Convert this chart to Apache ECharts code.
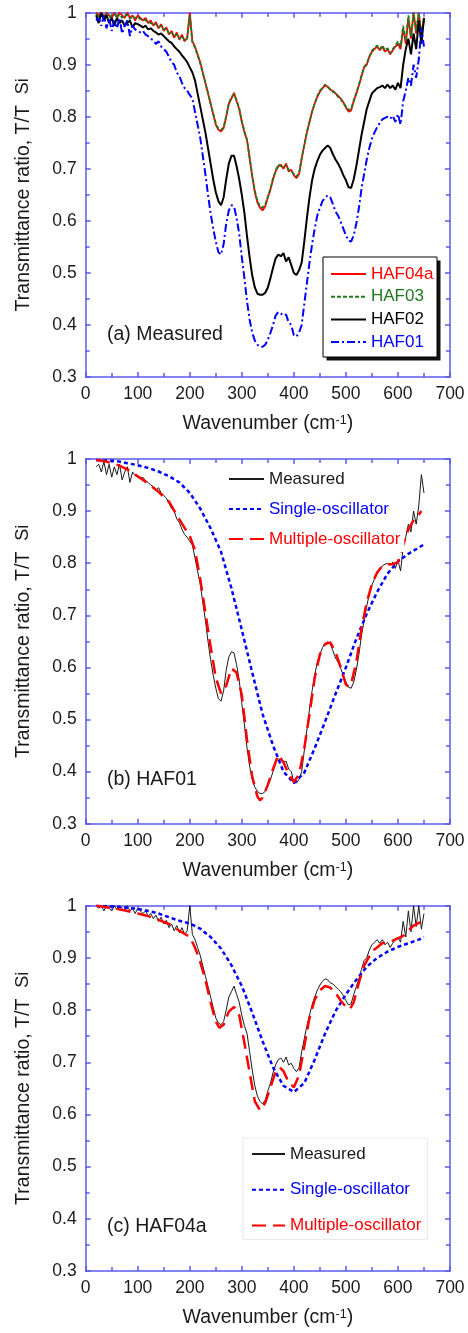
<!DOCTYPE html>
<html><head><meta charset="utf-8">
<script src="https://cdn.jsdelivr.net/npm/echarts@6/dist/echarts.min.js"></script>
<style>html,body{margin:0;padding:0;background:#fff}#c{width:468px;height:1333px}</style>
</head><body><div id="c"></div>
<script>
// ---------- DATA ----------
// measured wavenumber grid (cm^-1)
const wnMeas = [20,25,30,35,40,45,50,55,60,65,70,75,80,85,90,95,100,105,110,115,120,125,130,135,140,145,150,155,160,165,170,175,180,185,190,195,200,205,210,215,220,225,230,235,240,245,250,255,260,265,270,275,280,285,290,295,300,305,310,315,320,325,330,335,340,345,350,355,360,365,370,375,380,385,390,395,400,405,410,415,420,425,430,435,440,445,450,455,460,465,470,475,480,485,490,495,500,505,510,515,520,525,530,535,540,545,550,555,560,565,570,575,580,585,590,595,600,605,610,615,620,625,630,635,640,645,650];
const haf04a = [1.0,0.995,1.0,0.99,1.0,0.995,0.99,1.0,0.992,1.0,0.995,0.99,1.0,0.99,0.995,0.985,0.995,0.99,0.985,0.99,0.98,0.985,0.975,0.982,0.97,0.978,0.965,0.972,0.958,0.965,0.952,0.962,0.948,0.958,0.945,0.952,1.0,0.945,0.935,0.92,0.905,0.885,0.865,0.845,0.825,0.805,0.785,0.775,0.772,0.778,0.8,0.825,0.835,0.846,0.83,0.815,0.79,0.77,0.755,0.72,0.685,0.655,0.635,0.625,0.62,0.628,0.645,0.66,0.68,0.695,0.705,0.708,0.7,0.71,0.695,0.698,0.688,0.682,0.69,0.72,0.745,0.77,0.79,0.81,0.825,0.838,0.848,0.855,0.86,0.858,0.852,0.85,0.845,0.84,0.835,0.828,0.818,0.81,0.812,0.83,0.845,0.86,0.878,0.895,0.9,0.915,0.925,0.93,0.935,0.928,0.935,0.925,0.93,0.92,0.928,0.935,0.94,0.93,0.97,0.94,0.99,0.95,1.0,0.96,1.0,0.955,0.985];
const haf03 = [0.998,0.99,1.0,0.993,0.998,0.99,0.995,0.998,0.99,0.997,0.99,0.995,0.996,0.988,0.993,0.99,0.992,0.987,0.988,0.985,0.983,0.98,0.978,0.978,0.972,0.975,0.968,0.97,0.96,0.962,0.955,0.958,0.95,0.955,0.947,0.95,0.995,0.943,0.933,0.918,0.903,0.884,0.865,0.846,0.826,0.806,0.787,0.777,0.775,0.78,0.802,0.826,0.838,0.843,0.832,0.816,0.792,0.772,0.756,0.722,0.688,0.658,0.638,0.628,0.625,0.632,0.647,0.662,0.682,0.697,0.708,0.705,0.703,0.707,0.698,0.695,0.69,0.685,0.692,0.72,0.746,0.77,0.79,0.81,0.826,0.84,0.85,0.856,0.862,0.857,0.853,0.848,0.846,0.838,0.834,0.826,0.82,0.813,0.815,0.832,0.846,0.862,0.88,0.896,0.902,0.916,0.927,0.932,0.937,0.93,0.937,0.928,0.932,0.922,0.93,0.937,0.945,0.935,0.975,0.945,0.995,0.955,1.0,0.965,1.0,0.96,0.99];
const haf02 = [0.995,0.98,1.0,0.985,0.995,0.98,0.99,0.975,0.99,0.98,0.985,0.975,0.98,0.985,0.972,0.98,0.978,0.975,0.972,0.975,0.968,0.97,0.965,0.962,0.958,0.96,0.955,0.95,0.945,0.942,0.935,0.93,0.925,0.918,0.912,0.905,0.895,0.885,0.87,0.845,0.82,0.795,0.77,0.74,0.71,0.68,0.655,0.638,0.63,0.645,0.68,0.71,0.725,0.725,0.705,0.68,0.65,0.615,0.57,0.53,0.495,0.472,0.46,0.458,0.458,0.462,0.472,0.49,0.51,0.528,0.535,0.532,0.538,0.522,0.53,0.515,0.5,0.496,0.505,0.52,0.56,0.605,0.645,0.678,0.7,0.715,0.727,0.735,0.74,0.745,0.74,0.728,0.718,0.71,0.7,0.688,0.678,0.665,0.663,0.68,0.705,0.735,0.765,0.79,0.815,0.83,0.845,0.85,0.855,0.857,0.86,0.855,0.862,0.855,0.86,0.852,0.865,0.855,0.9,0.93,0.95,0.92,0.96,0.93,0.985,0.94,0.99];
const haf01 = [0.985,0.99,0.975,0.995,0.97,0.99,0.965,0.985,0.97,0.99,0.96,0.975,0.985,0.955,0.975,0.968,0.965,0.962,0.965,0.958,0.955,0.95,0.947,0.94,0.945,0.935,0.93,0.925,0.915,0.905,0.9,0.885,0.878,0.865,0.855,0.85,0.842,0.835,0.81,0.785,0.76,0.725,0.69,0.65,0.615,0.585,0.56,0.54,0.535,0.555,0.595,0.62,0.63,0.628,0.605,0.575,0.53,0.49,0.445,0.41,0.385,0.37,0.362,0.358,0.358,0.362,0.372,0.385,0.4,0.418,0.425,0.422,0.418,0.42,0.405,0.4,0.38,0.378,0.385,0.4,0.44,0.48,0.52,0.555,0.585,0.61,0.625,0.638,0.645,0.649,0.645,0.632,0.618,0.61,0.598,0.585,0.572,0.562,0.56,0.572,0.595,0.625,0.662,0.69,0.718,0.74,0.758,0.77,0.78,0.788,0.795,0.798,0.8,0.796,0.802,0.79,0.805,0.785,0.83,0.85,0.875,0.86,0.9,0.875,0.91,0.97,0.935];

// model fits, panel (b) HAF01
const wnSingleB = [20,40,60,80,100,120,140,160,180,200,220,240,260,280,300,320,340,360,380,400,420,440,460,480,500,520,540,560,580,600,620,640,650];
const singleB = [0.998,0.997,0.996,0.992,0.988,0.983,0.976,0.967,0.955,0.935,0.905,0.867,0.822,0.752,0.672,0.59,0.51,0.45,0.40,0.378,0.398,0.445,0.496,0.549,0.6,0.655,0.703,0.745,0.78,0.803,0.818,0.83,0.836];
const wnMultiB = [20,40,60,80,100,120,140,160,180,200,210,220,230,240,250,260,270,280,290,300,310,320,330,335,340,350,360,370,380,390,400,410,420,430,440,450,460,470,480,490,500,505,510,520,530,540,550,560,570,580,590,600,610,620,630,640,645];
const multiB = [0.998,0.995,0.989,0.98,0.967,0.953,0.937,0.918,0.884,0.852,0.825,0.77,0.705,0.64,0.58,0.55,0.565,0.598,0.59,0.547,0.46,0.39,0.352,0.345,0.35,0.375,0.405,0.432,0.418,0.395,0.38,0.395,0.445,0.51,0.58,0.625,0.645,0.648,0.63,0.6,0.567,0.563,0.568,0.61,0.675,0.725,0.76,0.782,0.795,0.798,0.798,0.802,0.835,0.865,0.882,0.893,0.9];

// model fits, panel (c) HAF04a
const wnSingleC = [20,40,60,80,100,120,140,160,180,200,220,240,260,280,300,320,340,360,380,400,420,440,460,480,500,520,540,560,580,600,620,640,650];
const singleC = [1.0,0.999,0.998,0.996,0.994,0.99,0.985,0.978,0.971,0.966,0.956,0.94,0.918,0.886,0.846,0.795,0.74,0.69,0.655,0.643,0.66,0.705,0.755,0.798,0.83,0.858,0.883,0.9,0.912,0.921,0.928,0.935,0.94];
const wnMultiC = [20,40,60,80,100,120,140,160,180,200,210,220,230,240,250,257,265,275,285,295,305,315,325,335,345,355,365,373,380,390,400,410,420,430,440,450,460,470,480,490,500,508,515,525,535,550,570,590,610,630,650];
const multiC = [1.0,0.997,0.994,0.99,0.985,0.98,0.973,0.965,0.952,0.94,0.92,0.893,0.858,0.815,0.778,0.766,0.772,0.797,0.806,0.79,0.737,0.68,0.625,0.608,0.622,0.652,0.682,0.69,0.683,0.662,0.652,0.675,0.73,0.785,0.82,0.838,0.846,0.843,0.833,0.818,0.806,0.802,0.815,0.853,0.885,0.912,0.928,0.933,0.942,0.962,0.972];

const xRange = [0, 700], xStep = 100;
const yRange = [0.3, 1.0], yStep = 0.1;
const panelLabels = ['(a) Measured', '(b) HAF01', '(c) HAF04a'];
const legendA = ['HAF04a', 'HAF03', 'HAF02', 'HAF01'];
const legendBC = ['Measured', 'Single-oscillator', 'Multiple-oscillator'];

// ---------- CHART ----------
const FF = '"Liberation Sans", Arial, sans-serif';
const AX = '#5a5aee';
const RED = '#ff0000', GREEN = '#1f7a1f', BLUE = '#0000ff', BLK = '#000000';
const grids = [
  {left: 85.7, top: 12.7, width: 364.3, height: 364.3},
  {left: 85.7, top: 459, width: 364.3, height: 364.7},
  {left: 85.7, top: 905.7, width: 364.3, height: 365.3}
];
const pairs = (xs, ys) => xs.map((x, i) => [x, ys[i]]);

function xAxis(gi, pos) {
  const main = pos === 'bottom';
  return {
    type: 'value', gridIndex: gi, position: pos, min: xRange[0], max: xRange[1], interval: xStep,
    axisLine: {show: true, onZero: false, lineStyle: {color: AX, width: 1.5}},
    axisTick: {show: true, inside: true, length: 5, lineStyle: {color: AX, width: 1.5}},
    minorTick: {show: true, splitNumber: 2, length: 4, lineStyle: {color: AX, width: 1.5}},
    splitLine: {show: false}, minorSplitLine: {show: false},
    axisLabel: {show: main, color: '#1a1a1a', fontSize: 17.5, fontFamily: FF, margin: 8},
    name: main ? '{a|Wavenumber (cm}{s|-1}{a|)}' : '',
    nameLocation: 'middle', nameGap: 37,
    nameTextStyle: {fontFamily: FF, color: '#1a1a1a',
      rich: {a: {fontSize: 19.5, lineHeight: 22, verticalAlign: 'top', fontFamily: FF, color: '#1a1a1a'},
             s: {fontSize: 12.5, lineHeight: 10, verticalAlign: 'top', fontFamily: FF, color: '#1a1a1a'}}}
  };
}
function yAxis(gi, pos) {
  const main = pos === 'left';
  return {
    type: 'value', gridIndex: gi, position: pos, min: yRange[0], max: yRange[1], interval: yStep,
    axisLine: {show: true, onZero: false, lineStyle: {color: AX, width: 1.5}},
    axisTick: {show: true, inside: true, length: 5, lineStyle: {color: AX, width: 1.5}},
    minorTick: {show: true, splitNumber: 2, length: 4, lineStyle: {color: AX, width: 1.5}},
    splitLine: {show: false}, minorSplitLine: {show: false},
    axisLabel: {show: main, color: '#1a1a1a', fontSize: 17.5, fontFamily: FF, margin: 9,
      formatter: v => (Math.abs(v - 1) < 1e-6 ? '1' : v.toFixed(1))},
    name: main ? '{a|Transmittance ratio, T/T  }{s|Si}' : '',
    nameLocation: 'middle', nameRotate: 90, nameGap: 38,
    nameTextStyle: {fontFamily: FF, color: '#1a1a1a',
      rich: {a: {fontSize: 19.5, lineHeight: 22, verticalAlign: 'top', fontFamily: FF, color: '#1a1a1a'},
             s: {fontSize: 18, lineHeight: 34, verticalAlign: 'top', fontFamily: FF, color: '#1a1a1a'}}}
  };
}
const xAxes = [], yAxes = [];
[0, 1, 2].forEach(g => { xAxes.push(xAxis(g, 'bottom'), xAxis(g, 'top')); yAxes.push(yAxis(g, 'left'), yAxis(g, 'right')); });

function line(name, g, data, color, width, type) {
  return {name, type: 'line', xAxisIndex: g * 2, yAxisIndex: g * 2, data, symbol: 'none', showSymbol: false,
    smooth: false, animation: false, z: 2, clip: true,
    lineStyle: {color, width, type}, itemStyle: {color}, emphasis: {disabled: true}};
}
const series = [
  line('HAF04a', 0, pairs(wnMeas, haf04a), RED, 1.8, 'solid'),
  line('HAF03', 0, pairs(wnMeas, haf03), GREEN, 1.8, [4, 2]),
  line('HAF02', 0, pairs(wnMeas, haf02), BLK, 2, 'solid'),
  line('HAF01', 0, pairs(wnMeas, haf01), BLUE, 2, [8, 3, 2, 3]),
  line('Measured', 1, pairs(wnMeas, haf01), '#1a1a1a', 1, 'solid'),
  line('Single-oscillator', 1, pairs(wnSingleB, singleB), BLUE, 2.5, [4, 3]),
  line('Multiple-oscillator', 1, pairs(wnMultiB, multiB), RED, 2.5, [14, 7]),
  line('Measured', 2, pairs(wnMeas, haf04a), '#1a1a1a', 1, 'solid'),
  line('Single-oscillator', 2, pairs(wnSingleC, singleC), BLUE, 2.5, [4, 3]),
  line('Multiple-oscillator', 2, pairs(wnMultiC, multiC), RED, 2.5, [14, 7])
];
const legendColors = {HAF04a: RED, HAF03: GREEN, HAF02: BLK, HAF01: BLUE,
  'Measured': '#1a1a1a', 'Single-oscillator': BLUE, 'Multiple-oscillator': RED};
const legItems = names => names.map(n => ({name: n, textStyle: {color: legendColors[n]}}));

const option = {
  backgroundColor: '#fff',
  animation: false,
  grid: grids.map(g => Object.assign({containLabel: false}, g)),
  xAxis: xAxes, yAxis: yAxes, series,
  legend: [
    {orient: 'vertical', left: 323, top: 257, padding: [7, 5, 5, 7], itemGap: 2.7, itemWidth: 35, itemHeight: 14,
     z: 6, itemStyle: {opacity: 0},
     selectedMode: false, textStyle: {fontSize: 17, lineHeight: 20, fontFamily: FF}, data: legItems(legendA)},
    {orient: 'vertical', left: 226, top: 466, padding: [3, 4, 3, 2], itemGap: 10, itemWidth: 35, itemHeight: 14,
     z: 6, itemStyle: {opacity: 0},
     backgroundColor: '#fff', borderWidth: 0, selectedMode: false,
     textStyle: {fontSize: 17, lineHeight: 20, fontFamily: FF}, data: legItems(legendBC)},
    {orient: 'vertical', left: 243, top: 1138, padding: [6, 6, 4, 8], itemGap: 15.8, itemWidth: 33, itemHeight: 14,
     z: 6, itemStyle: {opacity: 0},
     backgroundColor: '#fff', borderColor: '#e8e8e8', borderWidth: 1, selectedMode: false,
     textStyle: {fontSize: 17, lineHeight: 20, fontFamily: FF}, data: legItems(legendBC)}
  ],
  graphic: [
    {type: 'rect', z: 3, shape: {x: 326.5, y: 260.5, width: 114, height: 100}, style: {fill: '#111'}},
    {type: 'rect', z: 4, shape: {x: 323, y: 257, width: 114, height: 100}, style: {fill: '#fff', stroke: '#000', lineWidth: 1}},
    {type: 'text', x: 107, y: 335, z: 100, style: {text: panelLabels[0], fontSize: 19.5, fontFamily: FF, fill: '#1a1a1a', align: 'left', verticalAlign: 'middle'}},
    {type: 'text', x: 107, y: 780, z: 100, style: {text: panelLabels[1], fontSize: 19.5, fontFamily: FF, fill: '#1a1a1a', align: 'left', verticalAlign: 'middle'}},
    {type: 'text', x: 107, y: 1227, z: 100, style: {text: panelLabels[2], fontSize: 19.5, fontFamily: FF, fill: '#1a1a1a', align: 'left', verticalAlign: 'middle'}}
  ]
};
const chart = echarts.init(document.getElementById('c'), null, {renderer: 'canvas'});
chart.setOption(option);
</script>
</body></html>
